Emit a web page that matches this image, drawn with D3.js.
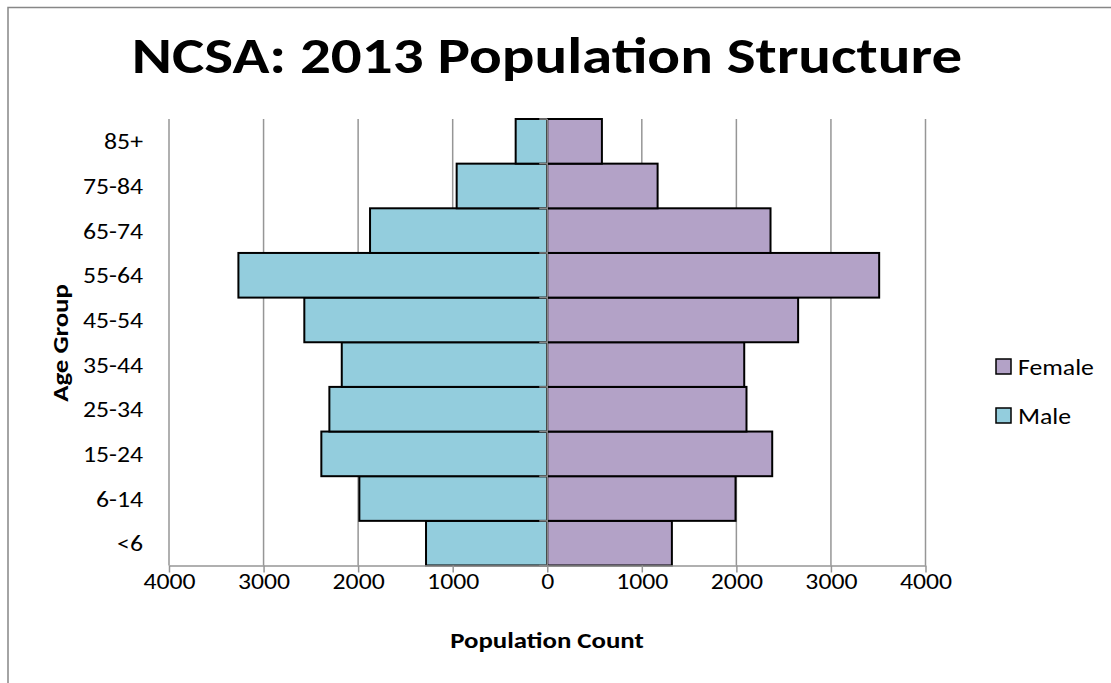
<!DOCTYPE html>
<html>
<head>
<meta charset="utf-8">
<script src="https://cdn.jsdelivr.net/npm/d3@7"></script>
<style>
  body { margin: 0; background: #fff; }
  text { font-family: Carlito, Lato, "Open Sans", sans-serif; fill: #000; }
</style>
</head>
<body>
<div id="chart"></div>
<script>
var ageGroups = ["<6", "6-14", "15-24", "25-34", "35-44", "45-54", "55-64", "65-74", "75-84", "85+"];
var maleValues = [1282, 1987, 2389, 2304, 2173, 2569, 3266, 1874, 958, 334];
var femaleValues = [1318, 1991, 2379, 2107, 2083, 2653, 3510, 2361, 1167, 578];
var xTicks = [-4000, -3000, -2000, -1000, 0, 1000, 2000, 3000, 4000];

var w = 1111, h = 683;
var plotLeft = 169, plotRight = 925.5, plotTop = 119, plotBottom = 565.5;
var sx = 1.22; // text in the original is a bit wide
var sxSmall = 1.12;

var svg = d3.select("#chart").append("svg")
    .attr("width", w)
    .attr("height", h);

// outer chart border (top and left edges visible)
svg.append("path")
    .attr("d", "M8,690 L8,7.5 L1120,7.5")
    .attr("fill", "none")
    .attr("stroke", "#878787")
    .attr("stroke-width", 1.5);

var xScale = d3.scaleLinear().domain([-4000, 4000]).range([plotLeft, plotRight]);
var yScale = d3.scaleBand().domain(ageGroups.slice().reverse()).range([plotTop, plotBottom]).padding(0);

// gridlines
svg.append("g").selectAll("line")
    .data(xTicks.filter(function(d) { return d != 0; }))
    .enter().append("line")
    .attr("x1", function(d) { return xScale(d); })
    .attr("x2", function(d) { return xScale(d); })
    .attr("y1", plotTop)
    .attr("y2", plotBottom)
    .attr("stroke", "#969696")
    .attr("stroke-width", 1.5);

var rows = ageGroups.map(function(g, i) {
    return { group: g, male: maleValues[i], female: femaleValues[i] };
});

svg.append("g").selectAll("rect")
    .data(rows)
    .enter().append("rect")
    .attr("x", function(d) { return xScale(-d.male); })
    .attr("y", function(d) { return yScale(d.group); })
    .attr("width", function(d) { return xScale(0) - xScale(-d.male); })
    .attr("height", yScale.bandwidth())
    .attr("fill", "#93CDDD")
    .attr("stroke", "#000")
    .attr("stroke-width", 2);

svg.append("g").selectAll("rect")
    .data(rows)
    .enter().append("rect")
    .attr("x", xScale(0))
    .attr("y", function(d) { return yScale(d.group); })
    .attr("width", function(d) { return xScale(d.female) - xScale(0); })
    .attr("height", yScale.bandwidth())
    .attr("fill", "#B3A2C7")
    .attr("stroke", "#000")
    .attr("stroke-width", 2);

// x axis
var xAxis = d3.axisBottom(xScale)
    .tickValues(xTicks)
    .tickSize(7)
    .tickSizeOuter(0)
    .tickFormat(function(d) { return Math.abs(d); });

var gx = svg.append("g")
    .attr("transform", "translate(0," + plotBottom + ")")
    .call(xAxis);
gx.select(".domain").attr("stroke", "#969696").attr("stroke-width", 1.5);
gx.selectAll(".tick line").attr("stroke", "#969696").attr("stroke-width", 1.5);
gx.selectAll(".tick text")
    .attr("y", 24)
    .attr("dy", 0)
    .attr("transform", "scale(" + sxSmall + ",1)")
    .style("font-size", "23px")
    .style("font-family", "Carlito, Lato, 'Open Sans', sans-serif");

// y axis on zero line, ticks at band edges pointing left
var zx = xScale(0);
svg.append("line")
    .attr("x1", zx).attr("x2", zx)
    .attr("y1", plotTop).attr("y2", plotBottom)
    .attr("stroke", "#878787")
    .attr("stroke-width", 1.5);
var edges = d3.range(ageGroups.length + 1).map(function(i) { return plotTop + i * yScale.step(); });
svg.append("g").selectAll("line")
    .data(edges)
    .enter().append("line")
    .attr("x1", zx - 8).attr("x2", zx)
    .attr("y1", function(d) { return d; })
    .attr("y2", function(d) { return d; })
    .attr("stroke", "#878787")
    .attr("stroke-width", 1.5);

// category labels
svg.append("g").selectAll("text")
    .data(ageGroups)
    .enter().append("text")
    .attr("transform", function(d) {
        return "translate(143," + (yScale(d) + yScale.bandwidth() / 2) + ") scale(" + sxSmall + ",1)";
    })
    .attr("dy", "0.35em")
    .attr("text-anchor", "end")
    .style("font-size", "23px")
    .text(function(d) { return d; });

// titles
svg.append("text")
    .attr("transform", "translate(547,73) scale(" + sx + ",1)")
    .attr("text-anchor", "middle")
    .style("font-size", "50px")
    .style("font-weight", "bold")
    .text("NCSA: 2013 Population Structure");

svg.append("text")
    .attr("transform", "translate(547,648) scale(" + sx + ",1)")
    .attr("text-anchor", "middle")
    .style("font-size", "22px")
    .style("font-weight", "bold")
    .text("Population Count");

svg.append("text")
    .attr("transform", "translate(68,343) rotate(-90) scale(" + sx + ",1)")
    .attr("text-anchor", "middle")
    .style("font-size", "22px")
    .style("font-weight", "bold")
    .text("Age Group");

// legend
var legendItems = [
    { name: "Female", color: "#B3A2C7" },
    { name: "Male", color: "#93CDDD" }
];
var lg = svg.append("g").selectAll("g")
    .data(legendItems)
    .enter().append("g")
    .attr("transform", function(d, i) { return "translate(996," + (359 + i * 49) + ")"; });
lg.append("rect")
    .attr("width", 15)
    .attr("height", 15)
    .attr("fill", function(d) { return d.color; })
    .attr("stroke", "#000")
    .attr("stroke-width", 1.5);
lg.append("text")
    .attr("transform", "translate(22,8) scale(" + sxSmall + ",1)")
    .attr("dy", "0.35em")
    .style("font-size", "23px")
    .text(function(d) { return d.name; });
</script>
</body>
</html>
